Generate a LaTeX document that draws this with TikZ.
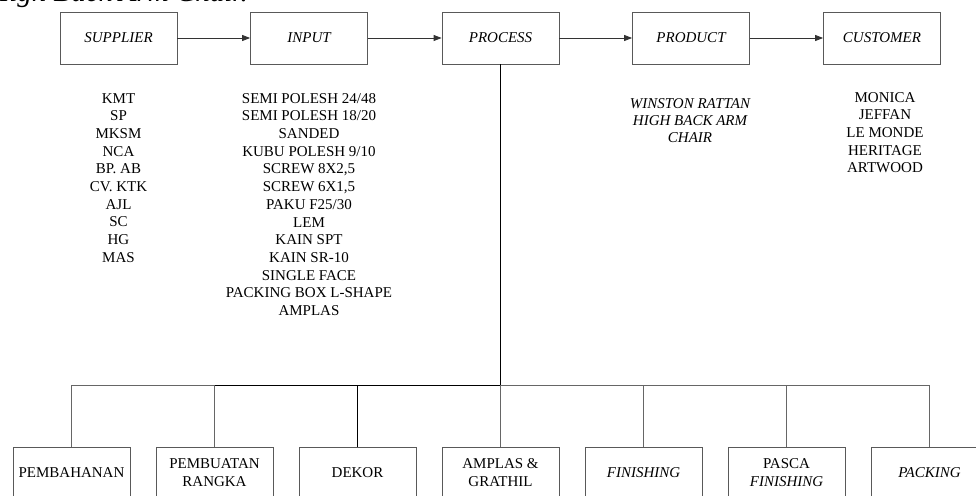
\documentclass[tikz,border=0pt]{standalone}
\usepackage{fontspec}
\setmainfont{Liberation Serif}
\usetikzlibrary{arrows.meta}
\begin{document}
\begin{tikzpicture}[x=1pt,y=-1pt,
  box/.style={draw=black!65, line width=0.8pt, minimum width=117pt, minimum height=52pt,
    inner sep=0pt, align=center, font=\fontsize{15}{18}\selectfont},
  lst/.style={align=center, anchor=north, inner sep=0pt, font=\fontsize{15}{17.7}\selectfont},
  arr/.style={draw=black!80, line width=0.8pt, -{Triangle[length=8pt,width=6pt]}},
  ln/.style={draw=black!60, line width=0.8pt},
  dark/.style={draw=black, line width=1pt}]
\useasboundingbox (0,0) rectangle (976,495);
\clip (0,0) rectangle (976,495);
% cut-off caption fragment
\node[anchor=base east, inner sep=0pt, font=\fontsize{29}{29}\selectfont\itshape] (cap) at (248,2) {High Back Arm Chair.};
% top row
\node[box, font=\fontsize{15}{18}\selectfont\itshape] (sup) at (118.5,38) {SUPPLIER};
\node[box, font=\fontsize{15}{18}\selectfont\itshape] (inp) at (309,38) {INPUT};
\node[box, font=\fontsize{15}{18}\selectfont\itshape] (pro) at (500.5,38) {PROCESS};
\node[box, font=\fontsize{15}{18}\selectfont\itshape] (prd) at (691,38) {PRODUCT};
\node[box, font=\fontsize{15}{18}\selectfont\itshape] (cus) at (882,38) {CUSTOMER};
\draw[arr] (sup) -- (inp);
\draw[arr] (inp) -- (pro);
\draw[arr] (pro) -- (prd);
\draw[arr] (prd) -- (cus);
% lists
\node[lst] (lsup) at (118.5,93) {KMT\\SP\\MKSM\\NCA\\BP. AB\\CV. KTK\\AJL\\SC\\HG\\MAS};
\node[lst] (linp) at (309,93) {SEMI POLESH 24/48\\SEMI POLESH 18/20\\SANDED\\KUBU POLESH 9/10\\SCREW 8X2,5\\SCREW 6X1,5\\PAKU F25/30\\LEM\\KAIN SPT\\KAIN SR-10\\SINGLE FACE\\PACKING BOX L-SHAPE\\AMPLAS};
\node[lst, font=\fontsize{15}{17}\selectfont\itshape] (lprd) at (690,98) {WINSTON RATTAN\\HIGH BACK ARM\\CHAIR};
\node[lst] (lcus) at (885,92) {MONICA\\JEFFAN\\LE MONDE\\HERITAGE\\ARTWOOD};
% bottom row
\node[box] (b1) at (71.5,473) {PEMBAHANAN};
\node[box] (b2) at (214.5,473) {PEMBUATAN\\RANGKA};
\node[box] (b3) at (357.5,473) {DEKOR};
\node[box] (b4) at (500.5,473) {AMPLAS \&\\GRATHIL};
\node[box] (b5) at (643.5,473) {\textit{FINISHING}};
\node[box] (b6) at (786.5,473) {PASCA\\\textit{FINISHING}};
\node[box] (b7) at (929.5,473) {\textit{PACKING}};
\coordinate (bus) at (500.5,385);
\foreach \b in {b1,b2,b5,b6,b7} {\draw[ln] (\b.north) |- (bus);}
\draw[dark] (b3.north) |- (bus);
\draw[dark] (b2.north |- bus) -- (bus);
\draw[ln] (b4.north) -- (bus);
\draw[dark] (pro.south) -- (bus);
\end{tikzpicture}
\end{document}
